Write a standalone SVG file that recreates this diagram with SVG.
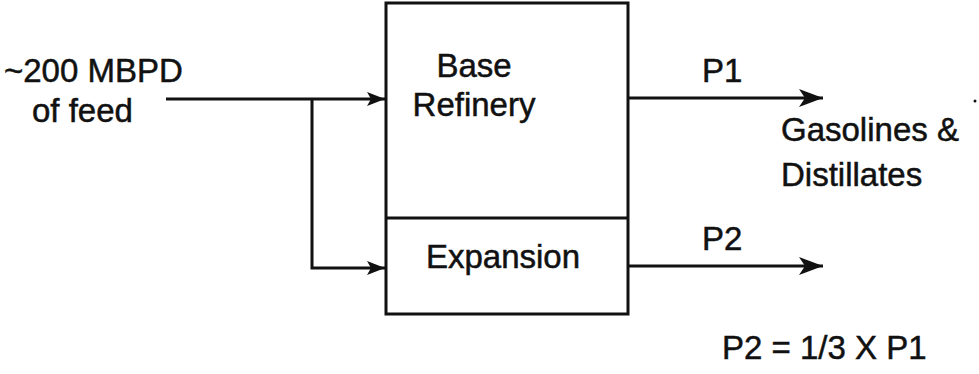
<svg xmlns="http://www.w3.org/2000/svg" width="979" height="374" viewBox="0 0 979 374">
<style>
text{font-family:"Liberation Sans",Arial,sans-serif;font-size:33px;fill:#111;stroke:#111;stroke-width:0.5}
.ln{fill:none;stroke:#111;stroke-width:3}
.bx{fill:#fff;stroke:#111;stroke-width:3}
</style>
<defs>
<marker id="ah" markerWidth="24" markerHeight="18" viewBox="0 0 24 18" refX="24" refY="9" orient="auto" markerUnits="userSpaceOnUse">
<path d="M0,0 L24,9 L0,18 L6,9 Z" fill="#111"/>
</marker>
<marker id="ai" markerWidth="20" markerHeight="16" viewBox="0 0 20 16" refX="20" refY="8" orient="auto" markerUnits="userSpaceOnUse">
<path d="M2,1 L20,8 L2,15 L6,8 Z" fill="#111"/>
</marker>
</defs>
<g id="refinery">
<rect class="bx" x="386" y="3" width="242" height="311"/>
<text x="474" y="77" text-anchor="middle">Base</text>
<text x="474" y="116" text-anchor="middle">Refinery</text>
</g>
<g id="expansion">
<line class="ln" x1="386" y1="218" x2="628" y2="218"/>
<text x="503" y="268" text-anchor="middle">Expansion</text>
</g>
<g id="feed">
<text x="4" y="82">~200 MBPD</text>
<text x="32" y="122">of feed</text>
</g>
<g id="products">
<text x="781" y="141">Gasolines &amp;</text>
<text x="781" y="186">Distillates</text>
<circle cx="975" cy="101" r="1.5" fill="#111"/>
</g>
<g id="connectors">
<line class="ln" x1="166" y1="99" x2="385" y2="99" marker-end="url(#ai)"/>
<polyline class="ln" points="312,99 312,268 385,268" marker-end="url(#ai)"/>
<line class="ln" x1="628" y1="98" x2="823" y2="98" marker-end="url(#ah)"/>
<line class="ln" x1="628" y1="266" x2="823" y2="266" marker-end="url(#ah)"/>
<text x="702" y="82">P1</text>
<text x="702" y="250">P2</text>
</g>
<text x="722" y="359">P2 = 1/3 X P1</text>
</svg>
